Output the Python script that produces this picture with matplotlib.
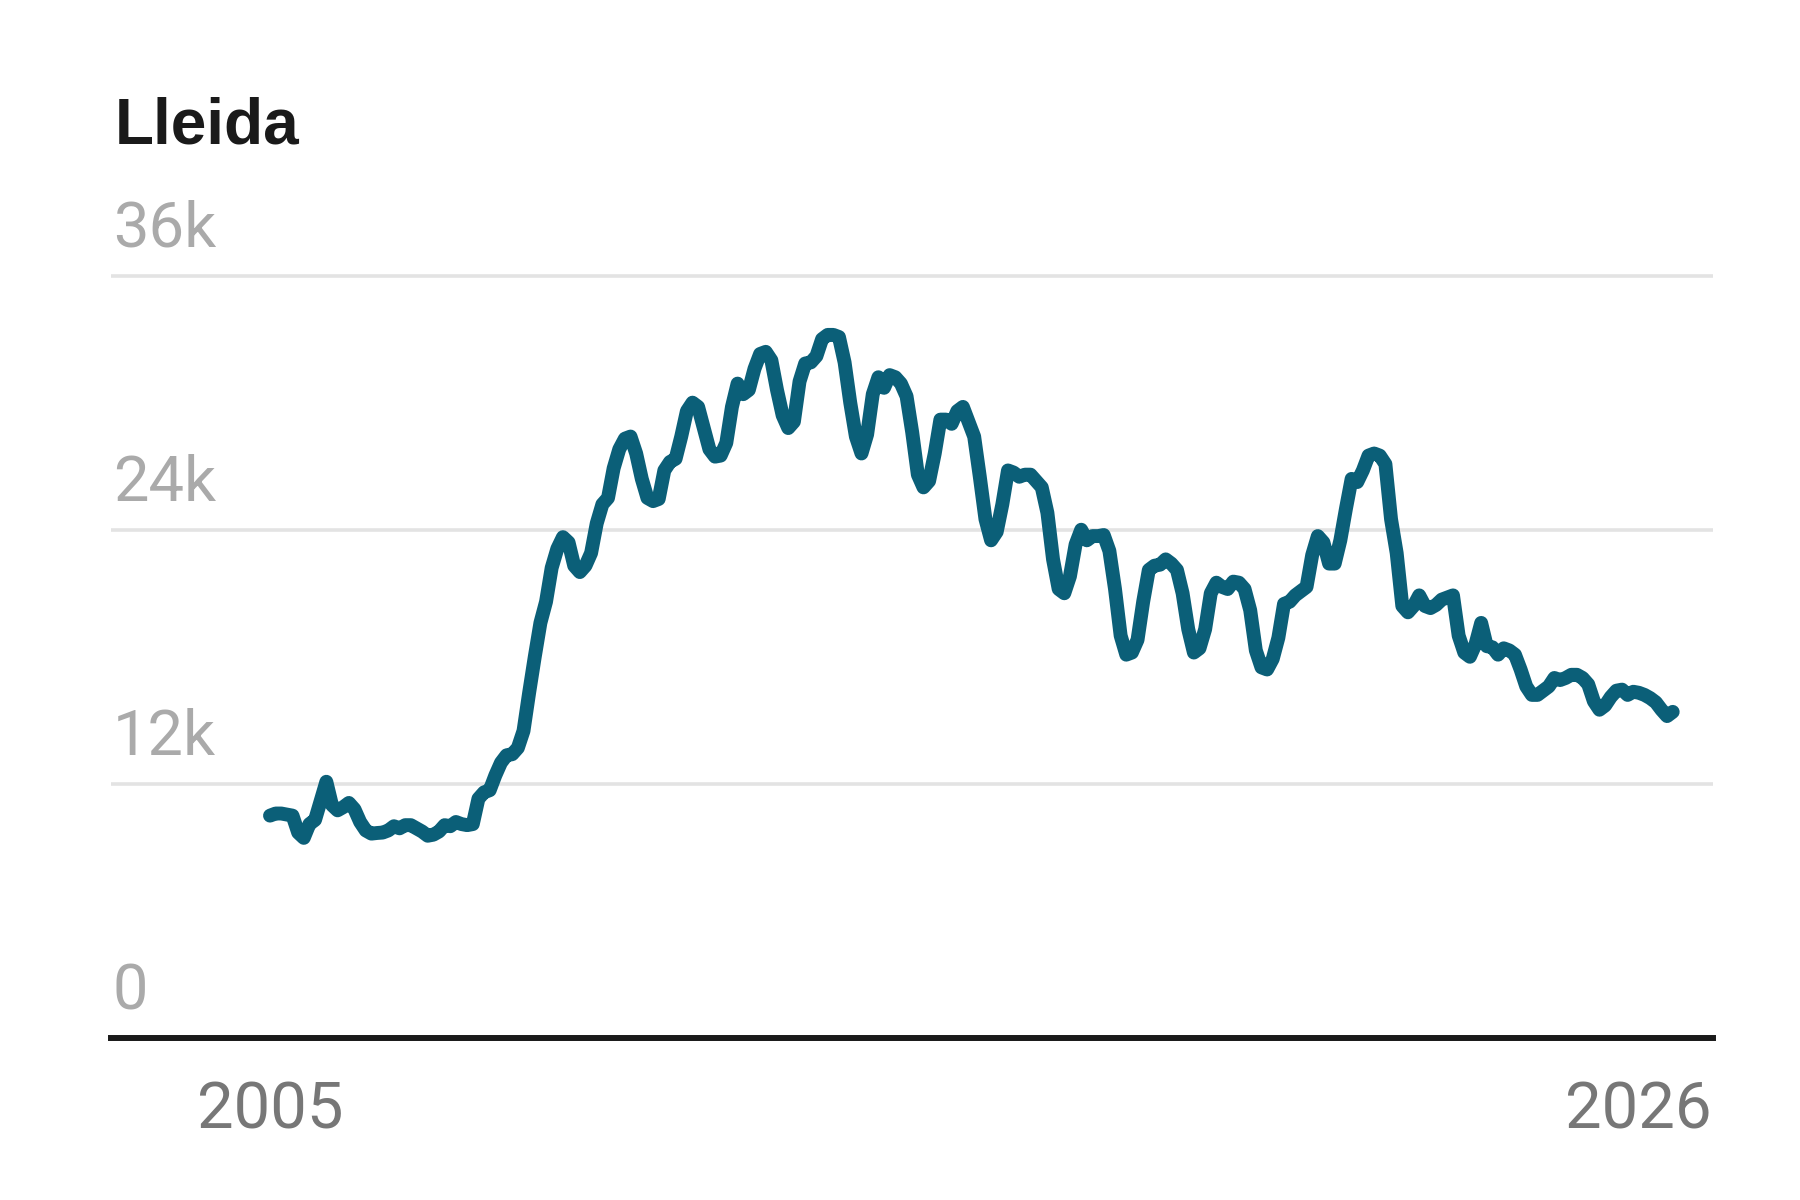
import numpy as np
import matplotlib
matplotlib.use("Agg")
import matplotlib.pyplot as plt
from matplotlib.transforms import ScaledTranslation

plt.rcParams["font.family"] = ["Roboto", "DejaVu Sans"]

title = "Lleida"
start_year = 2005  # monthly series starting January 2005

# registered unemployed, monthly (Jan 2005 - Oct 2025)
unemployed = [
    10500, 10600, 10600, 10550, 10500, 9700, 9450, 10100, 10300, 11200, 12100, 11000,   # 2005
    10750, 10900, 11100, 10800, 10200, 9800, 9650, 9680, 9700, 9800, 10000, 9900,        # 2006
    10050, 10050, 9900, 9750, 9550, 9600, 9750, 10050, 10000, 10200, 10100, 10050,       # 2007
    10100, 11300, 11600, 11700, 12400, 13000, 13350, 13400, 13700, 14500, 16300, 18000,  # 2008
    19600, 20600, 22200, 23100, 23650, 23400, 22300, 22000, 22300, 22900, 24300, 25200,  # 2009
    25500, 26900, 27800, 28300, 28400, 27600, 26400, 25500, 25350, 25450, 26800, 27200,  # 2010
    27350, 28400, 29600, 30000, 29800, 28800, 27800, 27450, 27500, 28100, 29800, 30900,  # 2011
    30400, 30600, 31600, 32300, 32400, 32000, 30600, 29400, 28800, 29100, 31000, 31850,  # 2012
    31900, 32200, 33000, 33200, 33200, 33100, 31900, 30000, 28400, 27600, 28500, 30400,  # 2013
    31200, 30700, 31300, 31200, 30900, 30300, 28600, 26600, 26000, 26300, 27600, 29200,  # 2014
    29200, 29000, 29600, 29800, 29100, 28400, 26500, 24500, 23500, 23900, 25200, 26800,  # 2015
    26700, 26500, 26600, 26600, 26300, 26000, 24800, 22600, 21200, 21000, 21800, 23300,  # 2016
    24000, 23500, 23700, 23700, 23750, 23000, 21200, 19000, 18100, 18200, 18800, 20600,  # 2017
    22100, 22300, 22350, 22600, 22400, 22100, 21000, 19300, 18200, 18400, 19300, 21000,  # 2018
    21500, 21300, 21200, 21550, 21500, 21200, 20200, 18300, 17500, 17400, 17900, 18900,  # 2019
    20500, 20600, 20900, 21100, 21300, 22800, 23700, 23400, 22400, 22400, 23500, 25000,  # 2020
    26400, 26250, 26800, 27500, 27600, 27500, 27100, 24500, 22900, 20400, 20100, 20400,  # 2021
    20900, 20400, 20300, 20450, 20700, 20800, 20900, 19000, 18200, 18000, 18600, 19600,  # 2022
    18500, 18450, 18100, 18400, 18300, 18100, 17400, 16600, 16200, 16200, 16400, 16600,  # 2023
    17000, 16900, 17000, 17150, 17150, 17000, 16700, 15900, 15500, 15700, 16100, 16400,  # 2024
    16450, 16200, 16350, 16300, 16200, 16050, 15850, 15500, 15200, 15400,                # 2025
]

y_ticks = [0, 12000, 24000, 36000]
y_tick_labels = ["0", "12k", "24k", "36k"]
x_ticks = [2005, 2026]
x_tick_labels = ["2005", "2026"]

line_color = "#0b5f78"
grid_color = "#e3e3e3"
axis_color = "#1a1a1a"

fig = plt.figure(figsize=(18, 12), dpi=100)
fig.patch.set_facecolor("white")
ax = fig.add_axes([111 / 1800, 162 / 1200, 1602 / 1800, 773 / 1200])

x = start_year + np.arange(len(unemployed)) / 12
ax.plot(x, unemployed, color=line_color, lw=10,
        solid_joinstyle="round", solid_capstyle="round", zorder=3)

ax.set_xlim(2002.648, 2026.346)
ax.set_ylim(0, 36500)

for s in ["top", "right", "left"]:
    ax.spines[s].set_visible(False)
ax.spines["bottom"].set_color(axis_color)
ax.spines["bottom"].set_linewidth(4.3)
ax.spines["bottom"].set_zorder(4)

ax.set_yticks(y_ticks, y_tick_labels)
ax.yaxis.grid(True, color=grid_color, lw=2.6)
ax.set_axisbelow(True)
ax.tick_params(axis="y", length=0, pad=0, labelsize=45.5, labelcolor="#aaaaaa")
for lab in ax.get_yticklabels():
    lab.set_ha("left")
    lab.set_va("baseline")
    lab.set_transform(lab.get_transform() + ScaledTranslation(2 / 100, 29 / 100, fig.dpi_scale_trans))

ax.set_xticks(x_ticks, x_tick_labels)
ax.tick_params(axis="x", length=0, pad=30, labelsize=47, labelcolor="#777777")
xl = ax.get_xticklabels()
xl[1].set_ha("right")
xl[1].set_transform(xl[1].get_transform() + ScaledTranslation(22 / 100, 0, fig.dpi_scale_trans))

fig.text(115 / 1800, 1 - 143.5 / 1200, title, fontsize=46, fontweight="bold",
         family=["Liberation Sans", "DejaVu Sans"],
         color="#1a1a1a", va="baseline", ha="left")

fig.savefig("out.png", dpi=100, facecolor="white")
